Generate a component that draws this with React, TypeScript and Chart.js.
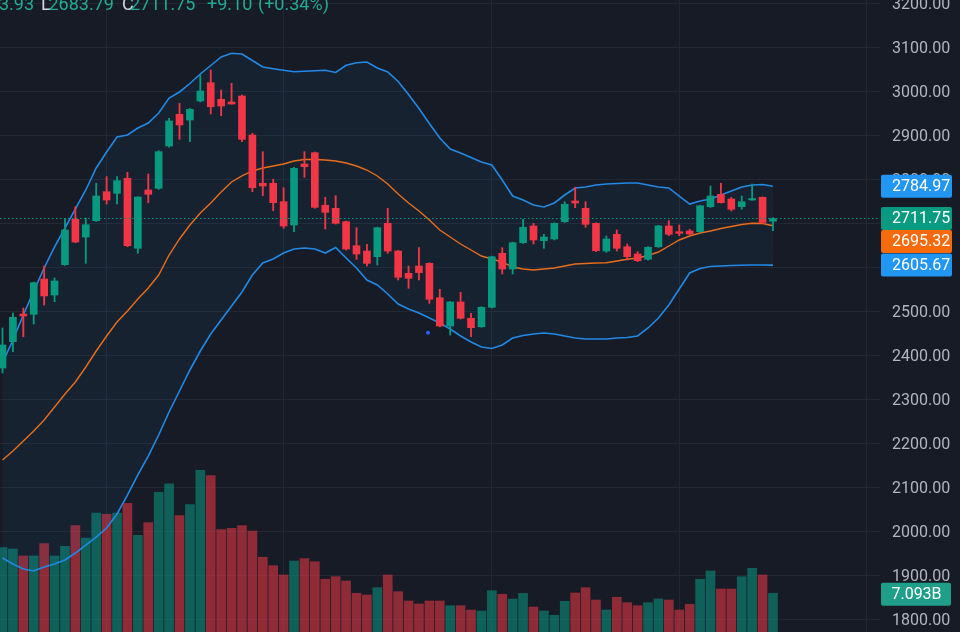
import React, { useEffect, useRef } from 'react';
import { Chart, registerables } from 'chart.js';

Chart.register(...registerables);

// ---- data (daily candles, oldest first) ----
const opens = [
  2371.4, 2431.3, 2494.3, 2493.7, 2574.0, 2537.6, 2606.6, 2709.9, 2669.6, 2706.7,
  2772.7, 2769.1, 2803.2, 2643.9, 2776.6, 2780.5, 2876.8, 2948.9, 2935.9, 2979.2,
  3020.8, 2983.1, 2976.9, 2990.6, 2901.8, 2791.9, 2791.9, 2750.0, 2696.9, 2835.8,
  2861.5, 2741.8, 2734.9, 2704.4, 2649.8, 2637.7, 2624.8, 2700.8, 2637.7, 2587.0,
  2603.6, 2609.7, 2531.4, 2467.0, 2521.7, 2484.6, 2465.4, 2509.6, 2632.5, 2596.8,
  2656.6, 2694.7, 2661.2, 2665.1, 2704.4, 2751.6, 2734.9, 2700.8, 2637.7, 2675.8,
  2647.5, 2630.9, 2618.9, 2647.5, 2694.7, 2681.7, 2683.3, 2681.7, 2738.6, 2766.8,
  2756.1, 2738.6, 2753.8, 2760.0, 2705.5,
];
const highs = [
  2462.5, 2496.6, 2508.0, 2567.0, 2603.6, 2576.3, 2712.2, 2738.6, 2712.9, 2791.9,
  2806.9, 2807.0, 2816.9, 2761.0, 2813.0, 2866.0, 2939.8, 2974.0, 2962.0, 3038.4,
  3049.8, 3004.2, 3019.5, 2992.9, 2905.7, 2863.8, 2801.0, 2781.8, 2828.0, 2863.8,
  2863.0, 2760.0, 2763.6, 2706.0, 2690.8, 2653.0, 2692.0, 2734.9, 2639.0, 2603.6,
  2645.3, 2611.0, 2550.6, 2523.0, 2543.7, 2495.9, 2511.0, 2626.0, 2645.3, 2658.0,
  2709.9, 2700.8, 2675.8, 2702.0, 2750.0, 2782.8, 2750.0, 2702.0, 2671.9, 2685.6,
  2653.7, 2636.2, 2648.0, 2696.0, 2706.7, 2696.9, 2687.1, 2742.0, 2785.7, 2791.9,
  2760.0, 2762.9, 2790.3, 2761.0, 2713.93,
];
const lows = [
  2360.0, 2408.5, 2442.7, 2471.6, 2514.8, 2522.3, 2605.0, 2656.6, 2609.7, 2705.0,
  2744.7, 2744.7, 2647.5, 2632.5, 2747.7, 2778.0, 2874.0, 2892.0, 2886.5, 2977.0,
  2949.6, 2945.7, 2971.7, 2886.5, 2772.7, 2763.6, 2729.5, 2689.4, 2681.7, 2805.5,
  2735.0, 2687.8, 2699.0, 2640.0, 2618.9, 2603.6, 2605.9, 2632.5, 2571.7, 2552.8,
  2571.7, 2518.7, 2465.0, 2446.5, 2483.0, 2442.7, 2464.0, 2508.0, 2585.4, 2585.4,
  2655.0, 2653.7, 2643.9, 2663.0, 2703.0, 2736.3, 2691.7, 2636.0, 2634.8, 2637.7,
  2617.3, 2613.4, 2617.0, 2646.0, 2672.6, 2672.6, 2674.2, 2680.0, 2737.0, 2747.0,
  2728.8, 2732.7, 2753.0, 2700.0, 2683.79,
];
const closes = [
  2423.8, 2486.8, 2489.8, 2565.6, 2535.3, 2569.5, 2685.6, 2658.2, 2697.6, 2762.9,
  2753.8, 2797.8, 2649.8, 2760.7, 2766.8, 2863.8, 2933.7, 2924.6, 2960.3, 3002.0,
  2966.2, 2967.8, 2972.4, 2892.0, 2781.8, 2785.7, 2747.7, 2694.7, 2826.0, 2829.7,
  2737.2, 2725.8, 2700.8, 2642.3, 2630.9, 2609.7, 2690.8, 2637.7, 2577.9, 2575.6,
  2588.4, 2527.8, 2467.0, 2521.7, 2484.6, 2463.2, 2509.6, 2624.8, 2596.8, 2656.6,
  2691.7, 2662.8, 2669.6, 2700.8, 2744.1, 2747.0, 2698.5, 2638.4, 2665.1, 2643.9,
  2624.8, 2615.7, 2646.2, 2694.7, 2675.8, 2678.0, 2676.5, 2740.9, 2762.9, 2747.7,
  2732.7, 2750.0, 2756.1, 2702.65, 2711.75,
];
// volume, billions
const volumes = [
  15.45, 15.21, 13.93, 13.93, 16.18, 13.93, 15.71, 19.48, 17.23, 21.81,
  21.57, 21.81, 23.59, 17.72, 20.03, 25.6, 27.13, 21.32, 23.33, 29.64,
  28.65, 18.75, 19.01, 19.48, 18.51, 13.69, 12.15, 10.45, 13.01, 13.45,
  12.88, 9.66, 10.14, 9.35, 7.09, 6.78, 8.12, 10.45, 7.39, 5.68,
  5.13, 5.68, 5.68, 4.82, 4.82, 4.03, 3.85, 7.57, 6.91, 6.05,
  7.09, 4.58, 3.85, 3.06, 5.63, 7.15, 8.12, 5.87, 4.03, 6.36,
  5.37, 4.82, 5.37, 6.05, 5.87, 4.03, 5.08, 9.66, 11.18, 7.88,
  7.88, 10.14, 11.67, 10.45, 7.093,
];
const bbUpper = [
  2382.8, 2435.2, 2492.1, 2546.7, 2599.1, 2646.9, 2690.1, 2733.4, 2776.6, 2826.7,
  2863.1, 2897.2, 2901.8, 2917.7, 2929.1, 2951.9, 2986.0, 2999.7, 3019.0, 3040.7,
  3060.0, 3079.4, 3087.8, 3086.2, 3071.4, 3056.6, 3052.7, 3049.1, 3045.9, 3046.8,
  3048.2, 3049.1, 3044.1, 3060.5, 3066.4, 3068.0, 3054.3, 3045.2, 3023.6, 2994.0,
  2962.1, 2928.0, 2895.0, 2869.9, 2860.8, 2850.6, 2840.3, 2833.5, 2799.4, 2762.9,
  2753.8, 2742.5, 2737.9, 2747.0, 2765.2, 2781.2, 2783.4, 2788.0, 2790.3, 2791.4,
  2792.5, 2792.5, 2788.0, 2783.4, 2781.2, 2762.9, 2744.7, 2751.6, 2756.1, 2765.2,
  2774.3, 2783.4, 2788.0, 2789.1, 2784.97,
];
const bbMiddle = [
  2162.0, 2182.5, 2205.3, 2228.0, 2253.1, 2282.6, 2312.2, 2339.6, 2373.7, 2410.1,
  2444.3, 2476.1, 2501.2, 2528.5, 2553.5, 2583.1, 2628.6, 2665.1, 2696.9, 2724.2,
  2747.0, 2772.1, 2794.8, 2808.5, 2819.9, 2826.7, 2831.2, 2835.8, 2842.6, 2846.0,
  2846.0, 2844.9, 2842.6, 2838.1, 2831.2, 2822.1, 2808.5, 2790.3, 2767.5, 2747.0,
  2728.8, 2708.3, 2685.6, 2669.6, 2653.7, 2640.0, 2626.4, 2619.5, 2612.7, 2601.3,
  2596.8, 2594.5, 2596.8, 2599.1, 2603.6, 2608.2, 2609.3, 2610.4, 2611.1, 2615.0,
  2618.9, 2621.8, 2627.5, 2635.5, 2649.1, 2662.8, 2671.9, 2678.7, 2683.3, 2689.0,
  2693.5, 2698.1, 2700.8, 2700.3, 2695.32,
];
const bbLower = [
  1938.9, 1925.3, 1913.9, 1909.3, 1918.4, 1925.3, 1934.4, 1950.3, 1968.5, 1986.7,
  2007.2, 2039.1, 2082.3, 2127.9, 2171.1, 2218.9, 2271.3, 2319.1, 2366.9, 2410.1,
  2448.8, 2480.7, 2512.6, 2544.4, 2583.1, 2610.4, 2619.5, 2633.2, 2642.3, 2644.6,
  2642.3, 2633.2, 2645.7, 2621.8, 2599.1, 2571.7, 2560.4, 2539.9, 2517.1, 2505.7,
  2496.6, 2485.2, 2473.9, 2460.2, 2444.3, 2430.6, 2419.2, 2415.8, 2423.8, 2439.7,
  2445.4, 2448.8, 2451.1, 2448.8, 2444.3, 2439.7, 2437.4, 2437.4, 2437.4, 2439.7,
  2440.9, 2444.3, 2462.5, 2485.2, 2514.8, 2551.2, 2587.7, 2597.9, 2602.5, 2603.6,
  2604.7, 2605.4, 2605.9, 2605.9, 2605.67,
];
// bar indices where a new month starts (vertical grid lines)
const monthStarts = [10, 27, 47, 65, 83];
const priceTicks = [1800, 1900, 2000, 2100, 2200, 2300, 2400, 2500, 2600, 2700, 2800, 2900, 3000, 3100, 3200];
const markerX = [40.87];
const markerY = [2451.8];
// legend strip (partly cut off at the top-left)
const legendParts = [
  { text: '3.93', kind: 'value' },
  { text: 'L', kind: 'key' },
  { text: '2683.79', kind: 'value' },
  { text: 'C', kind: 'key' },
  { text: '2711.75', kind: 'value' },
  { text: '+9.10', kind: 'value' },
  { text: '(+0.34%)', kind: 'value' },
];

// ---- styles ----
const BG = '#171b26';
const UP = '#089981';
const DOWN = '#f23645';
const UP_VOL = 'rgba(8,153,129,0.55)';
const DOWN_VOL = 'rgba(242,54,69,0.55)';
const BAND_BLUE = '#2189e6';
const LABEL_BLUE = '#2196f3';
const ORANGE = '#f66a0c';
const GRID = '#232734';
const AXIS_TEXT = '#b2b5be';
const FONT = 'Roboto, "Noto Sans", sans-serif';
const legendX = [-1, 41, 48.5, 122, 130, 207, 258];

const last = closes.length - 1;

const overlayPlugin = {
  id: 'overlay',
  beforeDraw(chart: any) {
    const { ctx } = chart;
    ctx.save();
    ctx.fillStyle = BG;
    ctx.fillRect(0, 0, chart.width, chart.height);
    ctx.restore();
  },
  afterDatasetsDraw(chart: any) {
    const { ctx, chartArea, scales } = chart;
    const y = Math.round(scales.y.getPixelForValue(closes[last])) + 0.5;
    ctx.save();
    ctx.strokeStyle = UP;
    ctx.lineWidth = 1;
    ctx.setLineDash([1.5, 2.5]);
    ctx.beginPath();
    ctx.moveTo(chartArea.left, y);
    ctx.lineTo(chartArea.right, y);
    ctx.stroke();
    ctx.restore();
  },
  afterDraw(chart: any) {
    const { ctx, scales, chartArea } = chart;
    const H = 23;
    const boxX = chartArea.right + 1;
    const boxW = 71;
    const labels = [
      { v: bbUpper[last], color: LABEL_BLUE },
      { v: closes[last], color: UP },
      { v: bbMiddle[last], color: ORANGE },
      { v: bbLower[last], color: LABEL_BLUE },
    ]
      .map((l) => ({ ...l, y: scales.y.getPixelForValue(l.v), cy: 0 }))
      .sort((a, b) => a.y - b.y);
    let prevBottom = -Infinity;
    for (const l of labels) {
      let cy = l.y;
      if (cy - H / 2 < prevBottom) cy = prevBottom + H / 2;
      prevBottom = cy + H / 2;
      l.cy = cy;
    }
    ctx.save();
    ctx.font = `16px ${FONT}`;
    ctx.textBaseline = 'middle';
    for (const l of labels) {
      ctx.fillStyle = l.color;
      ctx.beginPath();
      (ctx as any).roundRect(boxX, l.cy - H / 2, boxW, H, 2);
      ctx.fill();
      ctx.fillStyle = '#ffffff';
      ctx.textAlign = 'left';
      ctx.fillText(l.v.toFixed(2), chartArea.right + 12, l.cy + 1);
    }
    // volume label
    const vy = scales.yv.getPixelForValue(volumes[last]);
    ctx.fillStyle = '#1f9f89';
    ctx.beginPath();
    (ctx as any).roundRect(boxX, vy - H / 2 + 1, boxW - 1, H, 2);
    ctx.fill();
    ctx.fillStyle = '#ffffff';
    ctx.textAlign = 'center';
    ctx.fillText(volumes[last].toFixed(3) + 'B', boxX + boxW / 2, vy + 2);

    // legend strip
    ctx.font = `18px ${FONT}`;
    ctx.textBaseline = 'alphabetic';
    ctx.textAlign = 'left';
    legendParts.forEach((p, i) => {
      ctx.fillStyle = p.kind === 'key' ? '#d1d4dc' : '#22ab94';
      ctx.fillText(p.text, legendX[i], 9.5);
    });
    ctx.restore();
  },
};

export default function App() {
  const ref = useRef<HTMLCanvasElement>(null);

  useEffect(() => {
    const canvas = ref.current;
    if (!canvas) return;
    const isUp = (i: number) => closes[i] >= opens[i];
    const idx = opens.map((_, i) => i);

    const chart = new Chart(canvas, {
      type: 'bar',
      data: {
        datasets: [
          {
            type: 'bar',
            label: 'Volume',
            data: idx.map((i) => ({ x: i, y: volumes[i] })) as any,
            yAxisID: 'yv',
            xAxisID: 'x',
            backgroundColor: idx.map((i) => (isUp(i) ? UP_VOL : DOWN_VOL)),
            barThickness: 9,
            grouped: false,
            borderWidth: 0,
            order: 10,
          } as any,
          {
            type: 'line',
            label: 'Upper',
            data: idx.map((i) => ({ x: i, y: bbUpper[i] })) as any,
            yAxisID: 'y',
            xAxisID: 'x',
            borderColor: BAND_BLUE,
            borderWidth: 1.6,
            pointRadius: 0,
            tension: 0,
            fill: { target: 3, above: 'rgba(33,150,243,0.06)', below: 'rgba(33,150,243,0.06)' },
            order: 5,
          } as any,
          {
            type: 'line',
            label: 'Basis',
            data: idx.map((i) => ({ x: i, y: bbMiddle[i] })) as any,
            yAxisID: 'y',
            xAxisID: 'x',
            borderColor: ORANGE,
            borderWidth: 1.4,
            pointRadius: 0,
            tension: 0,
            fill: false,
            order: 5,
          } as any,
          {
            type: 'line',
            label: 'Lower',
            data: idx.map((i) => ({ x: i, y: bbLower[i] })) as any,
            yAxisID: 'y',
            xAxisID: 'x',
            borderColor: BAND_BLUE,
            borderWidth: 1.6,
            pointRadius: 0,
            tension: 0,
            fill: false,
            order: 5,
          } as any,
          {
            type: 'bar',
            label: 'Wicks',
            data: idx.map((i) => ({ x: i, y: [lows[i], highs[i]] })) as any,
            yAxisID: 'y',
            xAxisID: 'x',
            backgroundColor: idx.map((i) => (isUp(i) ? UP : DOWN)),
            barThickness: 1.2,
            grouped: false,
            borderWidth: 0,
            order: 2,
          } as any,
          {
            type: 'bar',
            label: 'Bodies',
            data: idx.map((i) => ({ x: i, y: [opens[i], closes[i]] })) as any,
            yAxisID: 'y',
            xAxisID: 'x',
            backgroundColor: idx.map((i) => (isUp(i) ? UP : DOWN)),
            barThickness: 7,
            minBarLength: 1.5,
            grouped: false,
            borderWidth: 0,
            order: 1,
          } as any,
          {
            type: 'scatter',
            label: 'Marker',
            data: markerX.map((x, i) => ({ x, y: markerY[i] })),
            yAxisID: 'y',
            xAxisID: 'x',
            backgroundColor: '#2962ff',
            borderWidth: 0,
            pointRadius: 2,
            order: 0,
          } as any,
        ],
      },
      options: {
        responsive: false,
        animation: false,
        devicePixelRatio: 1,
        events: [],
        layout: { padding: 0, autoPadding: false },
        font: { family: FONT } as any,
        plugins: {
          legend: { display: false },
          tooltip: { enabled: false },
        },
        scales: {
          x: {
            type: 'linear',
            min: -0.24,
            max: 84.28,
            offset: false,
            grid: { color: GRID, drawTicks: false, offset: false, lineWidth: 1 },
            border: { display: false },
            ticks: { display: false },
            afterBuildTicks: (scale: any) => {
              scale.ticks = monthStarts.map((v) => ({ value: v }));
            },
            afterFit: (scale: any) => {
              scale.height = 0;
              scale.paddingLeft = 0;
              scale.paddingRight = 0;
            },
          },
          y: {
            type: 'linear',
            position: 'right',
            min: 1770.5,
            max: 3209.1,
            grid: { color: GRID, drawTicks: false, lineWidth: 1 },
            border: { display: false },
            ticks: {
              color: AXIS_TEXT,
              padding: 12,
              labelOffset: 1.5,
              font: { family: FONT, size: 16 },
              callback: (v: any) => Number(v).toFixed(2),
            },
            afterBuildTicks: (scale: any) => {
              scale.ticks = priceTicks.map((v) => ({ value: v }));
            },
            afterFit: (scale: any) => {
              scale.width = 80;
              scale.paddingTop = 0;
              scale.paddingBottom = 0;
            },
          },
          yv: {
            type: 'linear',
            display: false,
            min: 0,
            max: 115.8,
          },
        },
      } as any,
      plugins: [overlayPlugin],
    });
    return () => chart.destroy();
  }, []);

  return (
    <div style={{ position: 'fixed', left: 0, top: 0, width: 960, height: 632, background: BG, overflow: 'hidden' }}>
      <canvas ref={ref} width={960} height={632} style={{ display: 'block', width: 960, height: 632 }} />
    </div>
  );
}
